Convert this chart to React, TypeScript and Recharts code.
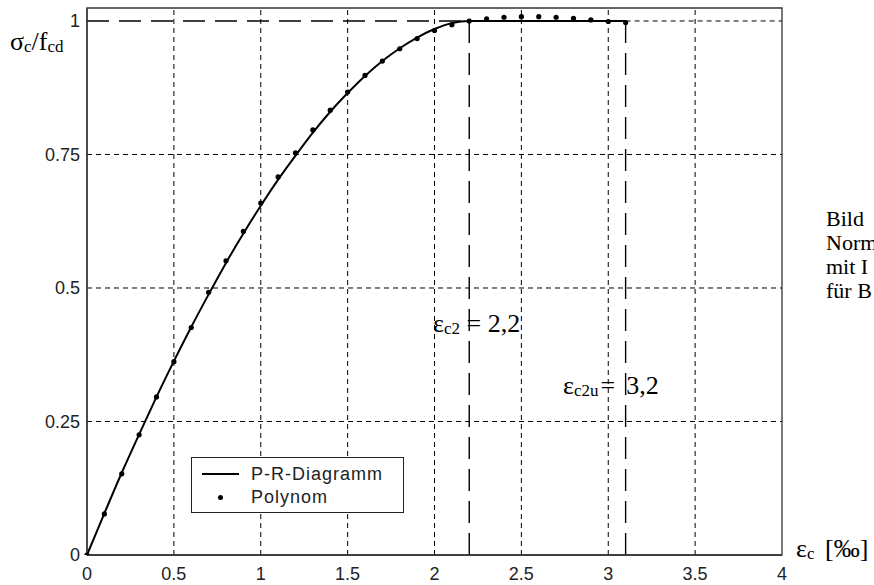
import React from "react";
import {
  LineChart,
  Line,
  XAxis,
  YAxis,
  ReferenceLine,
  ReferenceArea,
  Legend,
} from "recharts";

// strain eps_c in permille, 0.1 steps
const EPS = [
  0, 0.1, 0.2, 0.3, 0.4, 0.5, 0.6, 0.7, 0.8, 0.9, 1.0, 1.1, 1.2, 1.3, 1.4,
  1.5, 1.6, 1.7, 1.8, 1.9, 2.0, 2.1, 2.2, 2.3, 2.4, 2.5, 2.6, 2.7, 2.8, 2.9,
  3.0, 3.1,
];
// parabola-rectangle diagram sigma_c / f_cd
const PR_CURVE = [
  0, 0.078, 0.154, 0.226, 0.296, 0.363, 0.427, 0.488, 0.547, 0.602, 0.654,
  0.703, 0.748, 0.791, 0.83, 0.865, 0.897, 0.925, 0.949, 0.969, 0.985, 0.996,
  1, 1, 1, 1, 1, 1, 1, 1, 1, 1,
];
// polynomial approximation (dots)
const POLYNOM = [
  0, 0.077, 0.152, 0.225, 0.296, 0.362, 0.426, 0.492, 0.551, 0.606, 0.659,
  0.708, 0.753, 0.796, 0.833, 0.867, 0.898, 0.925, 0.948, 0.967, 0.982, 0.993,
  1.0, 1.004, 1.007, 1.008, 1.008, 1.007, 1.005, 1.002, 0.999, 0.997,
];
const X_TICKS = [0, 0.5, 1, 1.5, 2, 2.5, 3, 3.5, 4];
const Y_TICKS = [0, 0.25, 0.5, 0.75, 1];
const EPS_C2 = 2.2;
const EPS_CU2 = 3.1;
const Y_TOP = 1.0243;

const SERIES = [
  { key: "pr", name: "P-R-Diagramm" },
  { key: "poly", name: "Polynom" },
];

const CAPTION = ["Bild", "Norm", "mit I", "für B"];

const data = EPS.map((e, i) => ({ eps: e, pr: PR_CURVE[i], poly: POLYNOM[i] }));

const SANS = "'Liberation Sans', Arial, Helvetica, sans-serif";
const SERIF = "'Liberation Serif', 'Times New Roman', serif";
const GRID_DASH = "5 4";
const LONG_DASH = "22 10";

function LegendBox({ payload }: any) {
  return (
    <div
      style={{
        position: "absolute",
        left: 0,
        top: 0,
        width: 213,
        height: 56,
        border: "1.3px solid #222",
        background: "#fff",
        fontFamily: SANS,
        fontSize: 18,
        color: "#222",
        boxSizing: "border-box",
      }}
    >
      {(payload || []).map((p: any, i: number) => (
        <div
          key={p.value}
          style={{
            position: "absolute",
            left: 10,
            top: 4 + i * 23,
            height: 24,
            display: "flex",
            alignItems: "center",
            whiteSpace: "nowrap",
          }}
        >
          <div style={{ width: 37, display: "flex", justifyContent: "center" }}>
            {p.dataKey === "pr" ? (
              <div style={{ width: 37, height: 2.5, background: "#000" }} />
            ) : (
              <div
                style={{ width: 5, height: 5, borderRadius: 3, background: "#000" }}
              />
            )}
          </div>
          <span style={{ marginLeft: 12, letterSpacing: 1 }}>{p.value}</span>
        </div>
      ))}
    </div>
  );
}

export default function App() {
  return (
    <div
      style={{
        position: "absolute",
        left: 0,
        top: 0,
        width: 874,
        height: 585,
        background: "#fff",
        overflow: "hidden",
      }}
    >
      <LineChart
        width={874}
        height={585}
        data={data}
        margin={{ top: 8, right: 92, bottom: 0, left: 0 }}
      >
        <XAxis
          dataKey="eps"
          type="number"
          domain={[0, 4]}
          ticks={X_TICKS}
          height={30}
          tickSize={0}
          tickMargin={12}
          axisLine={{ stroke: "#333", strokeWidth: 1.3 }}
          tick={{ fill: "#222", fontSize: 18, fontFamily: SANS }}
          interval={0}
        />
        <YAxis
          type="number"
          domain={[0, Y_TOP]}
          allowDataOverflow
          ticks={Y_TICKS}
          width={87}
          tickSize={0}
          tickMargin={7}
          axisLine={{ stroke: "#333", strokeWidth: 1.3 }}
          tick={{ fill: "#222", fontSize: 18, fontFamily: SANS }}
          interval={0}
        />
        {X_TICKS.slice(1, -1).map((v) => (
          <ReferenceLine
            key={"gx" + v}
            x={v}
            stroke="#000"
            strokeWidth={1}
            strokeDasharray={GRID_DASH}
          />
        ))}
        {Y_TICKS.slice(1, -1).map((v) => (
          <ReferenceLine
            key={"gy" + v}
            y={v}
            stroke="#000"
            strokeWidth={1}
            strokeDasharray={GRID_DASH}
          />
        ))}
        <ReferenceLine
          segment={[
            { x: EPS_CU2, y: 1 },
            { x: 4, y: 1 },
          ]}
          stroke="#000"
          strokeWidth={1}
          strokeDasharray={GRID_DASH}
        />
        <ReferenceLine
          segment={[
            { x: 0, y: 1 },
            { x: EPS_C2, y: 1 },
          ]}
          stroke="#000"
          strokeWidth={1.4}
          strokeDasharray={LONG_DASH}
        />
        <ReferenceLine
          segment={[
            { x: EPS_C2, y: 0 },
            { x: EPS_C2, y: 1 },
          ]}
          stroke="#000"
          strokeWidth={1.4}
          strokeDasharray={LONG_DASH}
        />
        <ReferenceLine
          segment={[
            { x: EPS_CU2, y: 0 },
            { x: EPS_CU2, y: 1 },
          ]}
          stroke="#000"
          strokeWidth={1.4}
          strokeDasharray={LONG_DASH}
        />
        <ReferenceArea
          x1={0}
          x2={4}
          y1={0}
          y2={Y_TOP}
          fill="none"
          fillOpacity={0}
          stroke="#333"
          strokeWidth={1.3}
        />
        <Line
          dataKey="pr"
          name={SERIES[0].name}
          type="monotone"
          stroke="#000"
          strokeWidth={2}
          dot={false}
          isAnimationActive={false}
        />
        <Line
          dataKey="poly"
          name={SERIES[1].name}
          type="linear"
          stroke="none"
          dot={{ r: 2.6, fill: "#000", stroke: "none" }}
          activeDot={false}
          isAnimationActive={false}
        />
        <Legend
          content={<LegendBox />}
          wrapperStyle={{ left: 191, top: 457, width: 0, height: 0, bottom: "auto" }}
        />
      </LineChart>
      <svg
        width={874}
        height={585}
        style={{ position: "absolute", left: 0, top: 0, pointerEvents: "none" }}
        fontFamily={SERIF}
        fill="#000"
      >
        <text x={10} y={50} fontSize={26}>
          σ<tspan fontSize={17} dy={2}>c</tspan>
          <tspan fontSize={26} dy={-2}>/f</tspan>
          <tspan fontSize={17} dy={2}>cd</tspan>
        </text>
        <text x={433} y={332} fontSize={26}>
          ε<tspan fontSize={17} dy={2}>c2</tspan>
          <tspan fontSize={26} dy={-2}> = 2,2</tspan>
        </text>
        <text x={563} y={394} fontSize={26}>
          ε<tspan fontSize={17} dy={2}>c2u</tspan>
          <tspan fontSize={26} dy={-2} dx={2}>=</tspan>
          <tspan fontSize={26} dx={11}>3,2</tspan>
        </text>
        <text x={796} y={557} fontSize={26}>
          ε<tspan fontSize={17} dy={2}>c</tspan>
          <tspan fontSize={26} dy={-2} dx={4}> [‰]</tspan>
        </text>
        {CAPTION.map((line, i) => (
          <text key={line} x={826} y={226 + i * 24} fontSize={22}>
            {line}
          </text>
        ))}
      </svg>
    </div>
  );
}
